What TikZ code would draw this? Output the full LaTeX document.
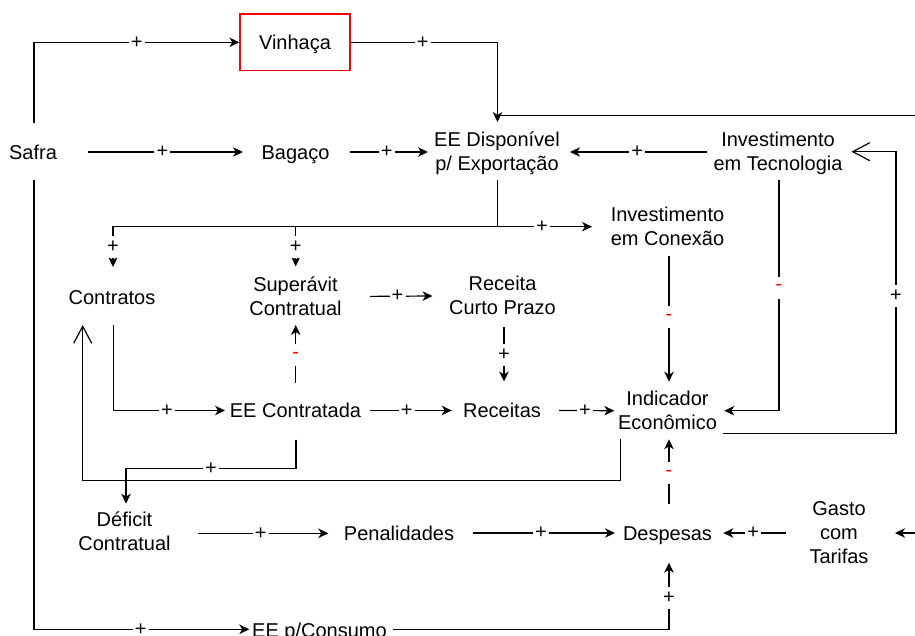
\documentclass[tikz,border=0pt]{standalone}
\usepackage{fontspec}
\setmainfont{Liberation Sans}
\usetikzlibrary{arrows.meta,calc}
\begin{document}
\begin{tikzpicture}[x=1pt,y=-1pt,
  line width=1.2pt,
  txt/.style={font=\fontsize{20}{24}\selectfont, inner sep=0pt, text height=14.3pt, text depth=0pt},
  txtm/.style={font=\fontsize{20}{24}\selectfont, inner sep=0pt, align=center},
  arr/.style={-{Stealth[length=10pt,width=9.5pt,inset=3pt]}},
  oarr/.style={-{Straight Barb[length=17pt,width=18pt]}},
  sg/.style={font=\fontsize{20}{22}\selectfont, fill=white, inner sep=0pt},
  sgh/.style={sg, minimum width=16pt, minimum height=12pt},
  sgv/.style={sg, minimum width=12pt, minimum height=22pt},
  neg/.style={text=red}
]
\fill[white] (0,0) rectangle (915,636);
\useasboundingbox (0,0) rectangle (915,636);

% nodes
\node[txt] (safra) at (33,152) {Safra};
\node[txt, draw=red, line width=1.3pt, minimum width=110pt, minimum height=56.7pt] (vinhaca) at (295,42.3) {Vinhaça};
\node[txt] (bagaco) at (295.5,152) {Bagaço};
\node[txtm] (eedisp) at (497,153.5) {EE Disponível\\p/ Exportação};
\node[txtm] (invtec) at (778,153.5) {Investimento\\em Tecnologia};
\node[txtm] (invcon) at (667.5,226.4) {Investimento\\em Conexão};
\node[txt] (contratos) at (112,297) {Contratos};
\node[txtm] (superavit) at (295.5,296.4) {Superávit\\Contratual};
\node[txtm] (receitacp) at (502.5,295.7) {Receita\\Curto Prazo};
\node[txt] (eecontr) at (295.5,410.5) {EE Contratada};
\node[txt] (receitas) at (502,410.5) {Receitas};
\node[txtm] (indicador) at (667.5,410.7) {Indicador\\Econômico};
\node[txtm] (deficit) at (124.5,531.7) {Déficit\\Contratual};
\node[txt] (penal) at (399,533) {Penalidades};
\node[txt] (despesas) at (667.5,533) {Despesas};
\node[txtm] (gasto) at (839,532.6) {Gasto\\com\\Tarifas};
\node[txt] (eecons) at (319.5,630) {EE p/Consumo};
\coordinate (edgeT) at (915,115.7);
\coordinate (edgeG) at (915,533);

% connectors
\draw[arr] ($(safra)+(1,-29)$) |- node[sgh,pos=0.75]{+} (vinhaca.west);
\draw[arr] (vinhaca.east) -| node[sgh,pos=0.245]{+} ($(eedisp)+(0.5,-31.5)$);
\draw (edgeT) -- (edgeT -| eedisp);
\draw[arr] ($(safra)+(55,0)$) -- node[sgh,pos=0.48]{+} ($(bagaco)+(-52.5,0)$);
\draw[arr] ($(bagaco)+(54.5,0)$) -- node[sgh,pos=0.47]{+} ($(eedisp)+(-69,-1.5)$);
\draw[arr] ($(invtec)+(-71,-1.5)$) -- node[sgh,pos=0.51]{+} ($(eedisp)+(73,-1.5)$);
\coordinate (br) at ($(eedisp)+(0.5,73.2)$);
\draw ($(eedisp)+(0.5,27)$) -- (br);
\draw[arr] (br) -| node[sgv,pos=0.75]{+} ($(contratos)+(1,-30)$);
\draw[arr] (br) -| node[sgv,pos=0.75]{+} ($(superavit)+(0.2,-30)$);
\draw[arr] (br) -- node[sgh,pos=0.47]{+} ($(invcon)+(-75.5,0.3)$);
\draw[arr] ($(superavit)+(74.5,0)$) -- node[sgh,pos=0.44]{+} ($(receitacp)+(-70,0.3)$);
\draw[arr] ($(receitacp)+(1.5,31)$) -- node[sgv,pos=0.51]{+} ($(receitas)+(2,-29)$);
\draw[arr] ($(eecontr)+(0.2,-27.8)$) -- node[sgv,neg,pos=0.48]{-} ($(superavit)+(0.2,28.6)$);
\draw[arr] ($(contratos)+(1.3,28)$) |- node[sgh,pos=0.74]{+} ($(eecontr)+(-70.5,0)$);
\draw[arr] ($(eecontr)+(74.5,0)$) -- node[sgh,pos=0.45]{+} ($(receitas)+(-50.3,0)$);
\draw[arr] ($(receitas)+(57,0)$) -- node[sgh,pos=0.47]{+} ($(indicador)+(-53.2,0)$);
\draw[arr] ($(invcon)+(1.5,29.3)$) -- node[sgv,neg,pos=0.49]{-} ($(indicador)+(1.5,-29)$);
\draw[arr] ($(invtec)+(1,26.8)$) |- node[sgv,neg,pos=0.233]{-} ($(indicador)+(56.8,0)$);
\draw[oarr] ($(indicador)+(55.8,22.6)$) -| node[sgv,pos=0.744]{+} ($(invtec)+(118,-1.8)$) -- ($(invtec)+(73.5,-1.8)$);
\draw[oarr] ($(indicador)+(-46.8,28.3)$) |- ($(contratos)+(-29.3,183.3)$) -- ($(contratos)+(-29.3,28)$);
\draw[arr] ($(eecontr)+(0.5,29)$) |- node[sgh,pos=0.75]{+} ($(deficit)+(1.5,-63)$) -- ($(deficit)+(1.5,-28)$);
\draw[arr] ($(deficit)+(73.8,1.6)$) -- node[sgh,pos=0.48]{+} ($(penal)+(-70.7,0.3)$);
\draw[arr] ($(penal)+(73.7,0)$) -- node[sgh,pos=0.48]{+} ($(despesas)+(-52.5,0)$);
\draw[arr] ($(gasto)+(-53.3,0.4)$) -- node[sgh,pos=0.52]{+} ($(despesas)+(55.8,0)$);
\draw[arr] (edgeG) -- ($(gasto)+(56,0.4)$);
\draw[arr] ($(despesas)+(1.5,-28.7)$) -- node[sgv,neg,pos=0.48]{-} ($(indicador)+(1.5,28.6)$);
\draw[arr] ($(safra)+(1,28)$) |- node[sgh,pos=0.748]{+} ($(eecons)+(-70.2,-0.7)$);
\draw[arr] ($(eecons)+(73.5,-0.7)$) -| node[sgv,pos=0.737]{+} ($(despesas)+(1.5,29.7)$);
\end{tikzpicture}
\end{document}
